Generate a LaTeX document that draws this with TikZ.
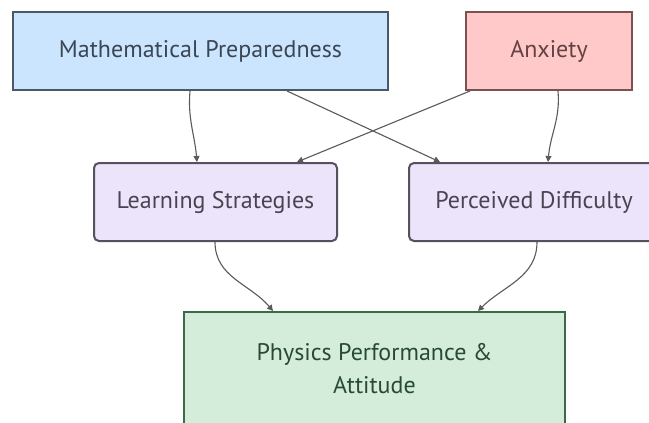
\documentclass[tikz,border=0pt]{standalone}
\usepackage{fontspec}
\setmainfont{PT Sans}
\usetikzlibrary{arrows.meta}
\definecolor{blueF}{HTML}{CCE5FF}\definecolor{blueD}{HTML}{4A5868}
\definecolor{pinkF}{HTML}{FFC9C9}\definecolor{pinkD}{HTML}{7A5252}
\definecolor{lavF}{HTML}{ECE4FB}\definecolor{lavD}{HTML}{57505F}
\definecolor{grnF}{HTML}{D4EDDA}\definecolor{grnD}{HTML}{3A6A48}
\definecolor{edge}{HTML}{5A5A5A}
\tikzset{
  box/.style={draw, line width=2pt, minimum height=78pt, inner sep=0pt, font=\fontsize{24}{33}\selectfont, align=center},
  link/.style={draw=edge, line width=1.1pt, -{Triangle[length=6pt,width=6pt]}},
}
\begin{document}
\begin{tikzpicture}[x=1pt,y=1pt]
\clip (0,0) rectangle (649,-423);
\fill[white] (0,0) rectangle (649,-423);
\node[box, fill=blueF, draw=blueD, text=blueD!80!black, minimum width=375pt] (M) at (200.5,-51) {Mathematical Preparedness};
\node[box, fill=pinkF, draw=pinkD, text=pinkD!80!black, minimum width=166pt] (A) at (549,-51) {Anxiety};
\node[box, fill=lavF, draw=lavD, text=lavD!85!black, minimum width=243pt, rounded corners=5pt] (L) at (215.5,-202) {Learning Strategies};
\node[box, fill=lavF, draw=lavD, text=lavD!85!black, minimum width=250pt, rounded corners=5pt] (P) at (534,-202) {Perceived Difficulty};
\node[box, fill=grnF, draw=grnD, text=grnD!70!black, minimum width=381pt, minimum height=114pt] (F) at (374.5,-369) {Physics Performance \&\\Attitude};
\draw[link] ([xshift=-10.5pt]M.south) to[out=-95,in=95] ([xshift=-18.5pt]L.north);
\draw[link] ([xshift=86.5pt]M.south) -- ([xshift=-94pt]P.north);
\draw[link] ([xshift=-79pt]A.south) -- ([xshift=81.5pt]L.north);
\draw[link] ([xshift=9pt]A.south) to[out=-85,in=85] ([xshift=14pt]P.north);
\draw[link] ([xshift=-0.5pt]L.south) to[out=-90,in=130] ([xshift=-101.5pt]F.north);
\draw[link] ([xshift=3pt]P.south) to[out=-90,in=45] ([xshift=103.5pt]F.north);
\end{tikzpicture}
\end{document}
